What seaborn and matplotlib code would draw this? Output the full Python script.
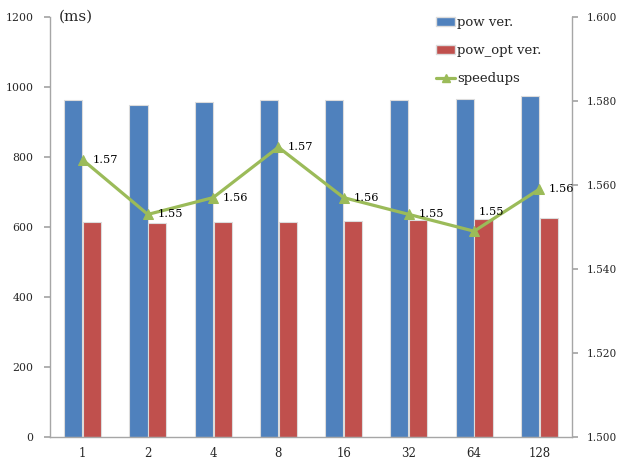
import numpy as np
import pandas as pd
import matplotlib
matplotlib.use("Agg")
import matplotlib.pyplot as plt
import seaborn as sns
from matplotlib.patches import Patch
from matplotlib.lines import Line2D

# Thread counts and timings (ms)
threads = ["1", "2", "4", "8", "16", "32", "64", "128"]
pow_ms = [963, 949, 958, 963, 963, 964, 967, 975]
pow_opt_ms = [615, 612, 615, 615, 618, 621, 624, 626]
speedups = [1.566, 1.553, 1.557, 1.569, 1.557, 1.553, 1.549, 1.559]

series_names = ["pow ver.", "pow_opt ver.", "speedups"]
left_ticks = [0, 200, 400, 600, 800, 1000, 1200]
right_ticks = [1.500, 1.520, 1.540, 1.560, 1.580, 1.600]

BLUE = "#4F81BD"
RED = "#C0504D"
GREEN = "#9BBB59"
AXIS_GREY = "#A6A6A6"
EDGE = "#DCDCDC"

sns.set_theme(style="white")
plt.rcParams["font.family"] = ["DejaVu Serif"]
plt.rcParams["font.size"] = 8

df = pd.DataFrame({
    "threads": threads * 2,
    "ms": pow_ms + pow_opt_ms,
    "version": [series_names[0]] * len(threads) + [series_names[1]] * len(threads),
})

fig = plt.figure(figsize=(6.19, 4.62), dpi=100)
ax = fig.add_axes([0.0808, 0.0541, 0.8432, 0.9091])

sns.barplot(data=df, x="threads", y="ms", hue="version", order=threads,
            palette=[BLUE, RED], saturation=1, width=0.58, gap=0.04, ax=ax,
            edgecolor=EDGE, linewidth=0.8, legend=False)

ax.set_ylim(0, 1200)
ax.set_yticks(left_ticks)
ax.set_xlim(-0.5, len(threads) - 0.5)
ax.set_xlabel("")
ax.set_ylabel("")

# Right axis: speedup line
ax2 = ax.twinx()
xpos = np.arange(len(threads))
sns.lineplot(x=xpos, y=speedups, ax=ax2, color=GREEN, linewidth=2.3,
             marker="^", markersize=6.5, markeredgecolor=GREEN, legend=False)
ax2.set_ylim(1.5, 1.6)
ax2.set_yticks(right_ticks)
ax2.set_yticklabels([f"{t:.3f}" for t in right_ticks])
ax2.set_xlim(-0.5, len(threads) - 0.5)

# Value labels beside each point
label_offsets = [(7, 0), (7, 0), (7, 0), (7, 0), (7, 0), (7, 0), (3.5, 14), (7, 0)]
for x, v, off in zip(xpos, speedups, label_offsets):
    ax2.annotate(f"{v:.2f}", (x, v), xytext=off, textcoords="offset points",
                 ha="left", va="center", fontsize=8.2, color="black")

# Spines and ticks
for a in (ax, ax2):
    a.spines["top"].set_visible(False)
    for s in ("left", "right", "bottom"):
        a.spines[s].set_color(AXIS_GREY)
        a.spines[s].set_linewidth(1.0)
ax.spines["right"].set_visible(False)
ax2.spines["left"].set_visible(False)
ax2.spines["bottom"].set_visible(False)

ax.tick_params(axis="y", which="major", direction="out", length=4, color=AXIS_GREY,
               labelsize=7.8, pad=8)
ax2.tick_params(axis="y", which="major", direction="out", length=4, color=AXIS_GREY,
                labelsize=7.6, pad=6.5)
ax.set_xticks(np.arange(len(threads)))
ax.set_xticklabels(threads)
ax.set_xticks(np.arange(len(threads) + 1) - 0.5, minor=True)
ax.tick_params(axis="x", which="major", length=0, labelsize=8.5, pad=7)
ax.tick_params(axis="x", which="minor", direction="out", length=4, color=AXIS_GREY)

ax.text(0.017, 1.0, "(ms)", transform=ax.transAxes, ha="left", va="center",
        fontsize=11)

handles = [
    Patch(facecolor=BLUE, edgecolor=EDGE, label=series_names[0]),
    Patch(facecolor=RED, edgecolor=EDGE, label=series_names[1]),
    Line2D([0], [0], color=GREEN, lw=2.3, marker="^", markersize=6, label=series_names[2]),
]
ax2.legend(handles=handles, loc="upper left", bbox_to_anchor=(0.73, 1.015),
           frameon=False, fontsize=9.5, labelspacing=1.15, handlelength=1.4,
           handleheight=0.6, handletextpad=0.15, borderaxespad=0)

fig.savefig("out.png", dpi=100)
